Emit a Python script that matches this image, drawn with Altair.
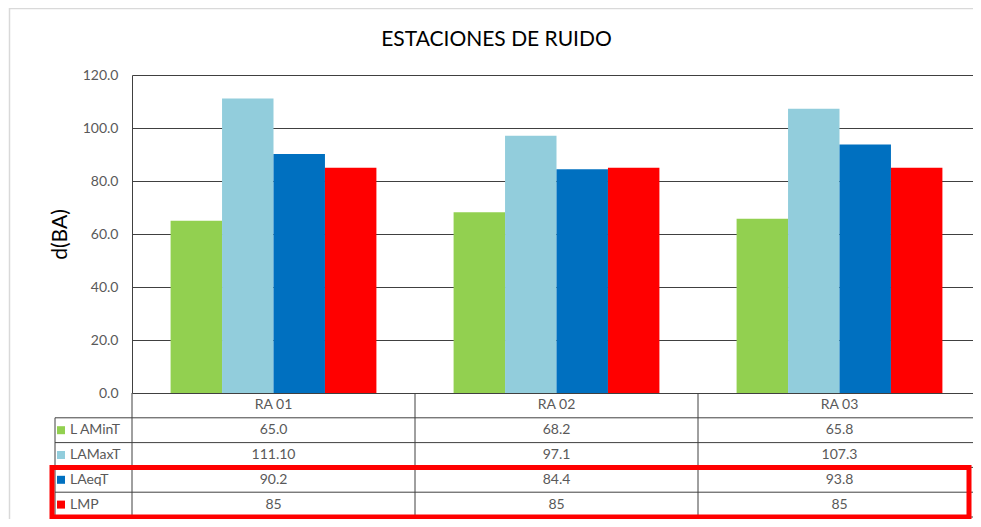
import altair as alt
import pandas as pd

# ---- data ----
stations = ["RA 01", "RA 02", "RA 03"]
series = ["L AMinT", "LAMaxT", "LAeqT", "LMP"]
colors = ["#92D050", "#92CDDC", "#0070C0", "#FF0000"]
lamin = [65.0, 68.2, 65.8]
lamax = [111.10, 97.1, 107.3]
laeq = [90.2, 84.4, 93.8]
lmp = [85, 85, 85]
lamin_txt = ["65.0", "68.2", "65.8"]
lamax_txt = ["111.10", "97.1", "107.3"]
laeq_txt = ["90.2", "84.4", "93.8"]
lmp_txt = ["85", "85", "85"]
y_ticks = [0, 20, 40, 60, 80, 100, 120]

FONT = "Lato"
W = 849          # plot width
PH = 318         # bar plot height
ROWS = 5         # header + 4 series rows
RH = 24.8        # row height
H = PH + ROWS * RH

vals = [lamin, lamax, laeq, lmp]
txts = [lamin_txt, lamax_txt, laeq_txt, lmp_txt]
rows = []
for si, s in enumerate(series):
    for ci, st in enumerate(stations):
        rows.append({"station": st, "series": s, "value": vals[si][ci],
                     "label": txts[si][ci], "rowc": si + 1.5})
df = pd.DataFrame(rows)
hdr = pd.DataFrame({"station": stations, "rowc": [0.5] * 3, "label": stations})
leg = pd.DataFrame({"series": series, "rowc": [i + 1.5 for i in range(4)]})
hlines = pd.DataFrame({"pos": [1, 2, 3, 4, 5]})
vlines = pd.DataFrame({"station": stations, "y0": [0] * 3, "y1": [5] * 3})
lcol = pd.DataFrame({"y0": [1], "y1": [5]})
redbox = pd.DataFrame({"y0": [3], "y1": [5]})
one = pd.DataFrame({"a": [0]})

xscale = alt.Scale(domain=stations, paddingInner=0, paddingOuter=0)
tscale = alt.Scale(domain=[0, ROWS], range=[PH, H], nice=False, zero=False)
cscale = alt.Scale(domain=series, range=colors)
LINE = "#404040"
GREY = "#595959"

frame = alt.Chart(one).mark_rect(fillOpacity=0, stroke="#d9d9d9", strokeWidth=1.5).encode(
    x=alt.value(-122.5), x2=alt.value(W + 40), y=alt.value(-66.5), y2=alt.value(H + 30)
)

bars = alt.Chart(df).mark_bar().encode(
    x=alt.X("station:N", sort=stations, scale=xscale, axis=None),
    xOffset=alt.XOffset("series:N", sort=series,
                        scale=alt.Scale(domain=series, paddingInner=0, paddingOuter=0.75)),
    y=alt.Y("value:Q", scale=alt.Scale(domain=[0, 120], range=[PH, 0], nice=False),
            axis=alt.Axis(values=y_ticks, format=".1f", grid=True, gridColor=LINE,
                          gridWidth=1, ticks=False, domainColor=LINE, labelColor=GREY,
                          labelFont=FONT, labelFontSize=14, labelPadding=14,
                          title="d(BA)", titleFont=FONT, titleFontSize=21,
                          titleFontWeight="normal", titleColor="#000000", titlePadding=12)),
    color=alt.Color("series:N", scale=cscale, legend=None),
)

hl = alt.Chart(hlines).mark_rule(color=LINE, strokeWidth=1).encode(
    y=alt.Y("pos:Q", scale=tscale, axis=None), x=alt.value(-77), x2=alt.value(W)
)
vl = alt.Chart(vlines).mark_rule(color=LINE, strokeWidth=1).encode(
    x=alt.X("station:N", sort=stations, scale=xscale, axis=None, bandPosition=0),
    y=alt.Y("y0:Q", scale=tscale, axis=None), y2="y1:Q"
)
lc = alt.Chart(lcol).mark_rule(color=LINE, strokeWidth=1).encode(
    x=alt.value(-77), y=alt.Y("y0:Q", scale=tscale, axis=None), y2="y1:Q"
)
cells = alt.Chart(df).mark_text(font=FONT, fontSize=14, color=GREY).encode(
    x=alt.X("station:N", sort=stations, scale=xscale, axis=None),
    y=alt.Y("rowc:Q", scale=tscale, axis=None),
    text="label:N",
)
head = alt.Chart(hdr).mark_text(font=FONT, fontSize=14, color=GREY).encode(
    x=alt.X("station:N", sort=stations, scale=xscale, axis=None),
    y=alt.Y("rowc:Q", scale=tscale, axis=None),
    text="label:N",
)
sq = alt.Chart(leg).mark_point(shape="square", filled=True, size=64, opacity=1).encode(
    x=alt.value(-71), y=alt.Y("rowc:Q", scale=tscale, axis=None),
    color=alt.Color("series:N", scale=cscale, legend=None),
)
lt = alt.Chart(leg).mark_text(font=FONT, fontSize=14, color=GREY, align="left").encode(
    x=alt.value(-62), y=alt.Y("rowc:Q", scale=tscale, axis=None), text="series:N"
)
rb = alt.Chart(redbox).mark_rect(fillOpacity=0, stroke="#FF0000", strokeWidth=5).encode(
    x=alt.value(-80), x2=alt.value(W - 12),
    y=alt.Y("y0:Q", scale=tscale, axis=None), y2="y1:Q"
)

chart = alt.layer(frame, bars, hl, vl, lc, cells, head, sq, lt, rb).resolve_scale(
    y="independent"
).properties(
    width=W, height=H,
    title=alt.Title("ESTACIONES DE RUIDO", font=FONT, fontSize=21, fontWeight="normal",
                    color="#000000", anchor="middle", offset=-42, dx=-60),
    autosize=alt.AutoSizeParams(type="none"),
    padding={"left": 124, "top": 67, "right": -8, "bottom": 2},
).configure_view(stroke=None)

chart.save("out.html", embed_options={"renderer": "svg", "actions": False})
